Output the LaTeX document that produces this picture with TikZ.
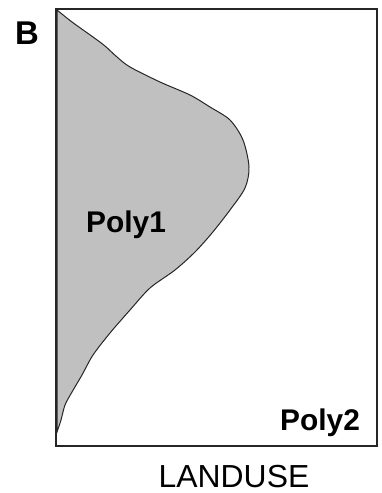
\documentclass[tikz,border=0pt]{standalone}
\usepackage{fontspec}
\setmainfont{Liberation Sans}
\definecolor{polygray}{RGB}{192,192,192}
\begin{document}
\begin{tikzpicture}[x=1bp,y=-1bp,
  lbl/.style={inner sep=0pt,anchor=base,font=\fontsize{30}{30}\selectfont\bfseries}]
\useasboundingbox (0,0) rectangle (381,493);
\fill[polygray,draw=black!85,line width=1bp] plot[smooth,tension=0.5] coordinates {
(57,10) (72,22) (93,37) (105,46) (117,57) (130,67) (160,82) (190,95)
(210,107) (230,120) (243,140) (249,167) (245,188) (230,210) (212,233) (195,252)
(175,270) (150,288) (130,310) (110,333) (93,355) (82,375) (72,392) (65,405)
(61,420) (57,432)} -- cycle;
\draw[line width=2bp,draw=black!85] (56,9.5) rectangle (377,446);
\node[lbl,font=\fontsize{33}{33}\selectfont\bfseries] (B) at (27,45) {B};
\node[lbl] (p1) at (126,232) {Poly1};
\node[lbl] (p2) at (320,430) {Poly2};
\node[lbl,font=\fontsize{32}{32}\selectfont] (lu) at (234,487) {LANDUSE};
\end{tikzpicture}
\end{document}
